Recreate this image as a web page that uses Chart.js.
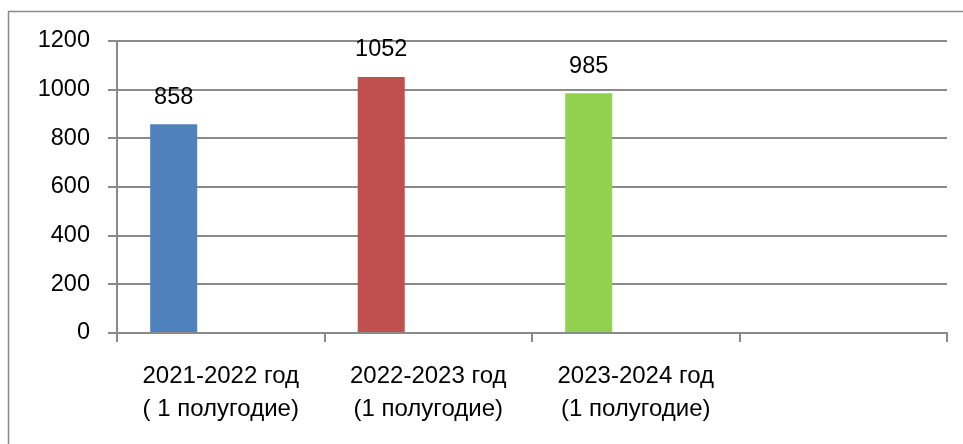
<!DOCTYPE html>
<html>
<head>
<meta charset="utf-8">
<script src="https://cdn.jsdelivr.net/npm/chart.js@4"></script>
<style>
  html, body { margin: 0; padding: 0; background: #fff; }
  #wrap { position: relative; width: 963px; height: 444px; }
</style>
</head>
<body>
<div id="wrap"><canvas id="chart"></canvas></div>
<script>
// данные диаграммы
const categories = [['2021-2022 год', '( 1 полугодие)'], ['2022-2023 год', '(1 полугодие)'], ['2023-2024 год', '(1 полугодие)'], ''];
const values = [858, 1052, 985, null];
const barColors = ['#4F81BD', '#C0504D', '#92D050', '#4F81BD'];
const emptySeries = [null, null, null, null];

const FONT = 'Liberation Sans, Arial, sans-serif';
const GRID = '#8a8a8a';

// рамка области диаграммы (видны только левая и верхняя стороны)
const frame = {
  id: 'frame',
  beforeDraw(chart) {
    const c = chart.ctx;
    c.save();
    c.strokeStyle = '#8a8a8a';
    c.lineWidth = 1.5;
    c.beginPath();
    c.moveTo(8.5, 444); c.lineTo(8.5, 11.5); c.lineTo(963, 11.5);
    c.stroke();
    c.restore();
  }
};

// подписи значений над столбцами
const valueLabels = {
  id: 'valueLabels',
  afterDatasetsDraw(chart) {
    const c = chart.ctx;
    const meta = chart.getDatasetMeta(0);
    c.save();
    c.fillStyle = '#000';
    c.font = '23.5px ' + FONT;
    c.textAlign = 'center';
    c.textBaseline = 'middle';
    meta.data.forEach((bar, i) => {
      if (values[i] == null) return;
      c.fillText(String(values[i]), bar.x, bar.y - 27);
    });
    c.restore();
  }
};

new Chart(document.getElementById('chart'), {
  type: 'bar',
  data: {
    labels: categories,
    datasets: [
      { data: values, backgroundColor: barColors },
      { data: emptySeries, backgroundColor: '#C0504D' },
      { data: emptySeries, backgroundColor: '#9BBB59' }
    ]
  },
  options: {
    responsive: true,
    maintainAspectRatio: false,
    animation: false,
    devicePixelRatio: 1,
    layout: { padding: { left: 0, right: 16, top: 41, bottom: 0 } },
    datasets: { bar: { categoryPercentage: 0.68, barPercentage: 1 } },
    plugins: { legend: { display: false }, tooltip: { enabled: false } },
    scales: {
      x: {
        offset: true,
        grid: { offset: true, drawOnChartArea: false, drawTicks: true, tickLength: 9, color: GRID, lineWidth: 2 },
        border: { display: true, color: GRID, width: 2 },
        ticks: { color: '#000', font: { family: FONT, size: 24, lineHeight: 1.38 }, padding: 18, maxRotation: 0, autoSkip: false },
        afterFit(s) { s.height = 111; }
      },
      y: {
        min: 0, max: 1200,
        grid: { color: GRID, lineWidth: 2, tickLength: 9 },
        border: { display: true, color: GRID, width: 2 },
        ticks: { stepSize: 200, color: '#000', font: { family: FONT, size: 23.5 }, padding: 18, callback: v => String(v) },
        afterFit(s) { s.width = 117; }
      }
    }
  },
  plugins: [frame, valueLabels]
});
</script>
</body>
</html>
